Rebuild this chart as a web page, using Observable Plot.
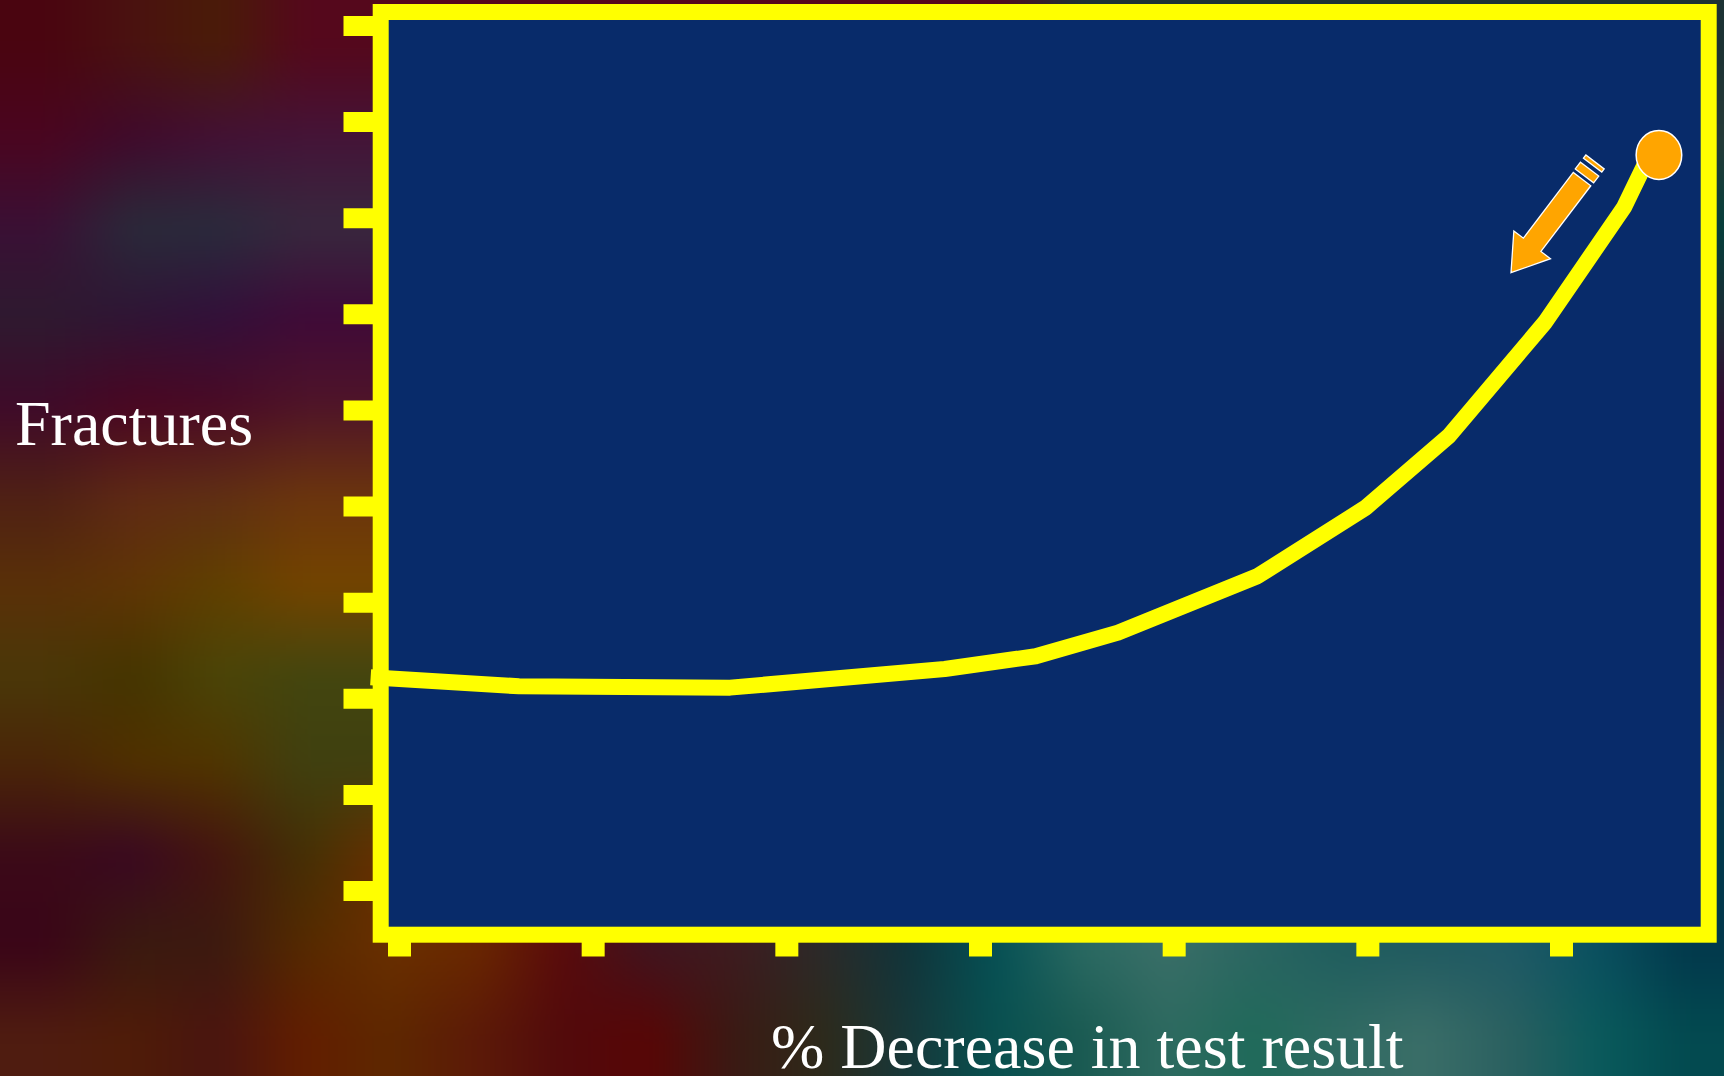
<!DOCTYPE html>
<html>
<head>
<meta charset="utf-8">
<title>Fractures against % decrease in test result</title>
<script src="https://cdn.jsdelivr.net/npm/d3@7"></script>
<script src="https://cdn.jsdelivr.net/npm/@observablehq/plot@0.6"></script>
<style>
  html, body { margin: 0; padding: 0; background: #3a1a10; overflow: hidden; }
  svg { display: block; }
</style>
</head>
<body>
<div id="chart"></div>
<script>
// Curve: fractures (in tick steps) against % decrease in test result (in tick steps)
const decreaseValues = [-0.149, 0.617, 1.707, 2.815, 3.285, 3.710, 4.429, 4.989, 5.419, 5.915, 6.323, 6.441];
const fractureValues = [2.224, 2.130, 2.116, 2.310, 2.443, 2.688, 3.275, 3.989, 4.735, 5.918, 7.114, 7.606];

// Orange marker sitting on the upper end of the curve
const markerDecrease = [6.503];
const markerFractures = [7.658];

// Unlabelled tick positions on both axes
const xTicks = [0, 1, 2, 3, 4, 5, 6];
const yTicks = [0, 1, 2, 3, 4, 5, 6, 7, 8, 9];

const xAxisTitle = "% Decrease in test result";
const yAxisTitle = "Fractures";

const navy = "#082b6a";
const yellow = "#ffff00";
const orange = "#ffa500";

// Mottled slide backdrop: colour samples for the left band, one row per 90px
const backdropLeft = [
  ["#4a0510", "#4a1210", "#4a1c08", "#55081c"],
  ["#4a0620", "#400a2c", "#431035", "#441438"],
  ["#3a1035", "#2a2a3a", "#2a2b3c", "#38283e"],
  ["#2e1a30", "#2f1535", "#32103a", "#3f0a38"],
  ["#3f0a2a", "#4a0622", "#4a0a25", "#4f1428"],
  ["#4f2015", "#5f2a15", "#602f14", "#6b350e"],
  ["#5a3008", "#5f3505", "#604000", "#744400"],
  ["#4a3808", "#453500", "#4b4508", "#43460f"],
  ["#4a2508", "#503000", "#503500", "#404010"],
  ["#3c0a18", "#3a0822", "#45150f", "#443005"]
];
// Samples for the sliver right of the plot
const backdropRight = ["#1c3234", "#263a38", "#05403c", "#1a2c36", "#350a30", "#35052f", "#330535", "#251a40", "#0c3450", "#073c48"];
// Samples for the two rows along the bottom
const backdropUpper = ["#3a0518", "#3a1a10", "#3c1a10", "#552a00", "#6a3000", "#6a2800", "#5a0a0c", "#3f1520", "#3e1c20", "#2c2a2a", "#10343a", "#055055", "#2a6a62", "#3b6f68", "#2c6662", "#1f5d5e", "#205a60", "#1f5a66", "#0a5060", "#02384c"];
const backdropLower = ["#4f1c10", "#4f1c08", "#4a1510", "#621e00", "#5e2800", "#5c1a08", "#520a0c", "#580606", "#3a1a14", "#2e2a1a", "#17383a", "#085050", "#1a5a52", "#2e6a60", "#206a5a", "#2f6a62", "#3b6e68", "#2a6060", "#0a5a5c", "#034a50"];

// Page and plot geometry
const width = 1724, height = 1076;
const plotLeft = 380.7, plotRight = 1708.7, plotTop = 12, plotBottom = 934.7;
const xAt = (px) => (px - 399.5) / 193.67;
const yAt = (py) => (891 - py) / 96.11;

// Assemble the backdrop samples into one grid, row by row
const innerCols = backdropUpper.length;
const gridRows = backdropLeft.map((row, r) => {
  const out = [];
  for (let c = 0; c < innerCols; ++c) {
    if (r === backdropLeft.length - 1 && c >= 4) out.push(backdropUpper[c]);
    else if (c < row.length) out.push(row[c]);
    else if (c === innerCols - 1 || (r === 0 && c >= 12)) out.push(backdropRight[r]);
    else out.push(row[row.length - 1]);
  }
  return out;
});
gridRows.push(backdropUpper, backdropLower);

// One extra cell on every side, so the blur has colour to draw on at the page edge
const padRow = (row) => [row[0], ...row, row[row.length - 1]];
const paddedRows = [padRow(gridRows[0]), ...gridRows.map(padRow), padRow(gridRows[gridRows.length - 1])];
const backdropCells = paddedRows.flat();
const cellW = width / innerCols, cellH = height / gridRows.length;

// End-point marker: a slightly tall ellipse
const ellipseSymbol = {
  draw(ctx) {
    const rx = 22.8, ry = 24.4, k = 0.5523;
    ctx.moveTo(-rx, 0);
    ctx.bezierCurveTo(-rx, -k * ry, -k * rx, -ry, 0, -ry);
    ctx.bezierCurveTo(k * rx, -ry, rx, -k * ry, rx, 0);
    ctx.bezierCurveTo(rx, k * ry, k * rx, ry, 0, ry);
    ctx.bezierCurveTo(-k * rx, ry, -rx, k * ry, -rx, 0);
    ctx.closePath();
  }
};

// Block arrow with two detached bands at its tail; the origin is its tip
const bandedArrow = {
  draw(ctx) {
    ctx.moveTo(0, 0);
    ctx.lineTo(23, -35);
    ctx.lineTo(11, -35);
    ctx.lineTo(11, -117.5);
    ctx.lineTo(-11, -117.5);
    ctx.lineTo(-11, -35);
    ctx.lineTo(-23, -35);
    ctx.closePath();
    ctx.moveTo(-11.5, -121.5);
    ctx.lineTo(11.5, -121.5);
    ctx.lineTo(11.5, -130);
    ctx.lineTo(-11.5, -130);
    ctx.closePath();
    ctx.moveTo(-11.5, -135);
    ctx.lineTo(11.5, -135);
    ctx.lineTo(11.5, -139);
    ctx.lineTo(-11.5, -139);
    ctx.closePath();
  }
};

const chart = Plot.plot({
  width,
  height,
  marginLeft: plotLeft - 0.5,
  marginRight: width - plotRight + 0.5,
  marginTop: plotTop - 0.5,
  marginBottom: height - plotBottom + 0.5,
  style: { background: "transparent", overflow: "hidden" },
  x: { domain: [xAt(plotLeft), xAt(plotRight)], axis: null },
  y: { domain: [yAt(plotBottom), yAt(plotTop)], axis: null },
  marks: [
    Plot.raster(backdropCells, {
      width: innerCols + 2,
      height: gridRows.length + 2,
      x1: xAt(-cellW),
      x2: xAt(width + cellW),
      y1: yAt(-cellH),
      y2: yAt(height + cellH),
      fill: (d) => d,
      imageFilter: "blur(14px)"
    }),
    Plot.axisY(yTicks, { anchor: "left", tickSize: 36.7, stroke: yellow, strokeWidth: 20, fill: "none", label: null }),
    Plot.axisX(xTicks, { anchor: "bottom", tickSize: 22.3, stroke: yellow, strokeWidth: 23, fill: "none", label: null }),
    Plot.frame({ fill: navy, stroke: yellow, strokeWidth: 16 }),
    Plot.line({ length: decreaseValues.length }, {
      x: decreaseValues,
      y: fractureValues,
      stroke: yellow,
      strokeWidth: 16,
      strokeLinecap: "butt",
      strokeLinejoin: "round"
    }),
    Plot.dot({ length: 1 }, {
      x: markerDecrease,
      y: markerFractures,
      symbol: ellipseSymbol,
      fill: orange,
      stroke: "white",
      strokeWidth: 1.5
    }),
    Plot.vector([0], {
      x: () => xAt(1511),
      y: () => yAt(272.7),
      rotate: 37.2,
      anchor: "start",
      shape: bandedArrow,
      fill: orange,
      stroke: "white",
      strokeWidth: 1.3,
      strokeLinecap: "butt",
      strokeLinejoin: "miter"
    }),
    Plot.text([yAxisTitle], {
      x: () => xAt(15),
      y: () => yAt(445),
      text: (d) => d,
      textAnchor: "start",
      lineAnchor: "bottom",
      fontFamily: "Liberation Serif",
      fontSize: 64,
      fill: "white"
    }),
    Plot.text([xAxisTitle], {
      x: () => xAt(771),
      y: () => yAt(1067.7),
      text: (d) => d,
      textAnchor: "start",
      lineAnchor: "bottom",
      fontFamily: "Liberation Serif",
      fontSize: 64,
      fill: "white"
    })
  ]
});

document.getElementById("chart").append(chart);
</script>
</body>
</html>
